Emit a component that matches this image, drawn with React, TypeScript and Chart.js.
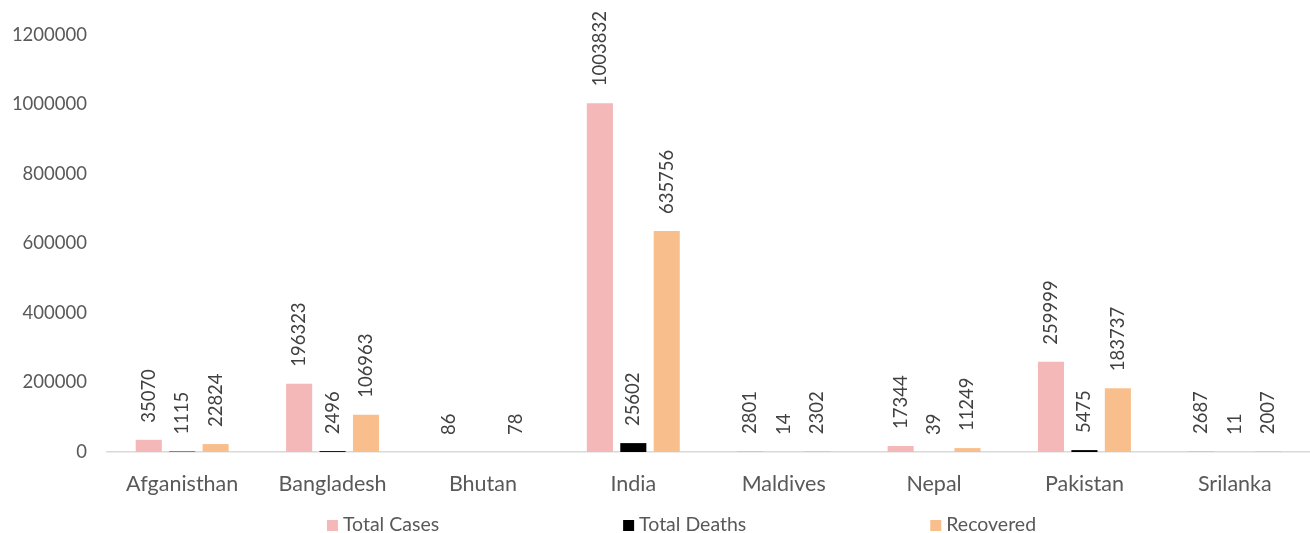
import React, { useEffect, useRef } from "react";
import { Chart, registerables } from "chart.js";

Chart.register(...registerables);

const categories = ["Afganisthan", "Bangladesh", "Bhutan", "India", "Maldives", "Nepal", "Pakistan", "Srilanka"];
const totalCases = [35070, 196323, 86, 1003832, 2801, 17344, 259999, 2687];
const totalDeaths: (number | null)[] = [1115, 2496, null, 25602, 14, 39, 5475, 11];
const recovered = [22824, 106963, 78, 635756, 2302, 11249, 183737, 2007];
const seriesNames = ["Total Cases", "Total Deaths", "Recovered"];
const seriesColors = ["#F4B8B8", "#000000", "#F8BF8C"];
const yTicks = [0, 200000, 400000, 600000, 800000, 1000000, 1200000];

const FONT = "Lato";

const barLabels = {
  id: "barLabels",
  afterDatasetsDraw(chart: any) {
    const ctx = chart.ctx;
    ctx.save();
    ctx.font = `18.5px ${FONT}`;
    ctx.fillStyle = "#404040";
    ctx.textAlign = "left";
    ctx.textBaseline = "middle";
    chart.data.datasets.forEach((ds: any, di: number) => {
      const meta = chart.getDatasetMeta(di);
      meta.data.forEach((el: any, i: number) => {
        const v = ds.data[i];
        if (v === null || v === undefined) return;
        ctx.save();
        ctx.translate(el.x, el.y - 17);
        ctx.rotate(-Math.PI / 2);
        ctx.fillText(String(v), 0, 0);
        ctx.restore();
      });
    });
    ctx.restore();
  },
};

const customLegend = {
  id: "customLegend",
  afterDraw(chart: any) {
    const ctx = chart.ctx;
    ctx.save();
    ctx.font = `19.5px ${FONT}`;
    const box = 11;
    const gap = 5;
    const spacing = 184;
    const items = chart.data.datasets.map((d: any) => ({
      label: d.label,
      color: d.backgroundColor,
      w: ctx.measureText(d.label).width,
    }));
    const total =
      items.reduce((s: number, it: any) => s + box + gap + it.w, 0) + spacing * (items.length - 1);
    let x = 681.5 - total / 2;
    const y = 525;
    items.forEach((it: any) => {
      ctx.fillStyle = it.color;
      ctx.fillRect(x, y - 5, box, box);
      ctx.fillStyle = "#595959";
      ctx.textAlign = "left";
      ctx.textBaseline = "middle";
      ctx.fillText(it.label, x + box + gap, y);
      x += box + gap + it.w + spacing;
    });
    ctx.restore();
  },
};

export default function App() {
  const ref = useRef<HTMLCanvasElement>(null);
  useEffect(() => {
    if (!ref.current) return;
    const chart = new Chart(ref.current, {
      type: "bar",
      data: {
        labels: categories,
        datasets: [
          { label: seriesNames[0], data: totalCases, backgroundColor: seriesColors[0] },
          { label: seriesNames[1], data: totalDeaths, backgroundColor: seriesColors[1] },
          { label: seriesNames[2], data: recovered, backgroundColor: seriesColors[2] },
        ],
      },
      options: {
        animation: false,
        responsive: false,
        maintainAspectRatio: false,
        layout: { padding: { left: 0, right: -10, top: 35, bottom: 0 } },
        datasets: {
          bar: { categoryPercentage: 0.667, barPercentage: 0.78 },
        },
        plugins: {
          legend: { display: false },
          tooltip: { enabled: false },
        },
        scales: {
          x: {
            grid: { display: false, drawTicks: false },
            border: { display: true, color: "#D9D9D9", width: 1.5 },
            ticks: { color: "#595959", font: { family: FONT, size: 21.5 }, padding: 19, maxRotation: 0 },
            afterFit(scale: any) {
              scale.height = 81;
            },
          },
          y: {
            min: 0,
            max: 1200000,
            grid: { display: false, drawTicks: false },
            border: { display: false },
            afterBuildTicks(scale: any) {
              scale.ticks = yTicks.map((v) => ({ value: v }));
            },
            ticks: {
              color: "#595959",
              font: { family: FONT, size: 18.5 },
              padding: 20,
              callback: (v: any) => String(v),
            },
            afterFit(scale: any) {
              scale.width = 107;
            },
          },
        },
      },
      plugins: [barLabels, customLegend],
    });
    return () => chart.destroy();
  }, []);
  return (
    <div style={{ position: "fixed", left: 0, top: 0, width: 1310, height: 533, background: "#fff" }}>
      <canvas ref={ref} width={1310} height={533} style={{ width: 1310, height: 533 }} />
    </div>
  );
}
